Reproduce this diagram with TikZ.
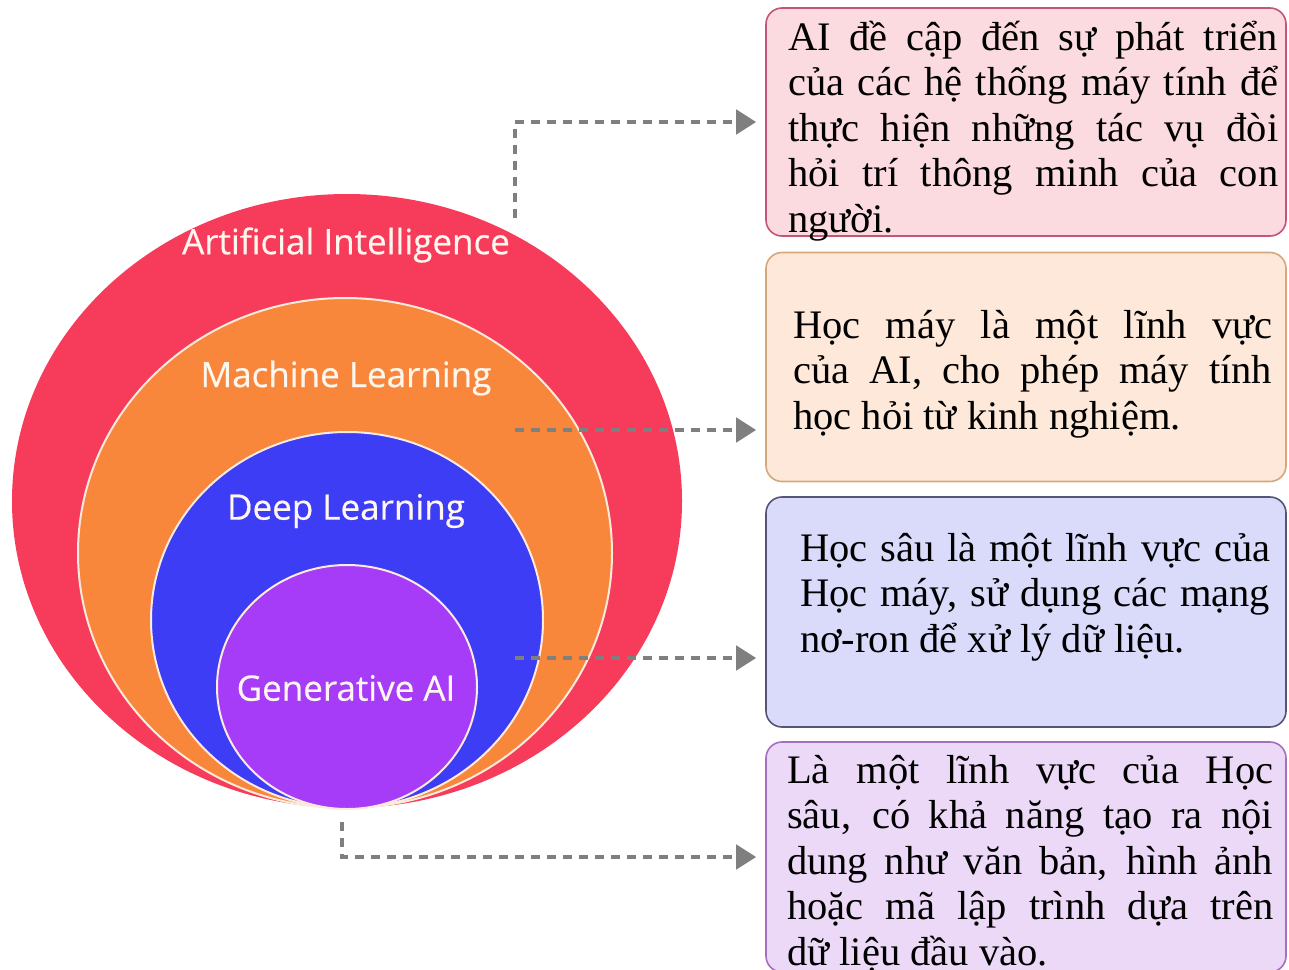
\documentclass[tikz,border=0pt]{standalone}
\usepackage{fontspec}
\setmainfont{Liberation Serif}
\newfontfamily\labelfont[FakeBold=0.5]{Open Sans}
\usetikzlibrary{arrows.meta}
\definecolor{aired}{HTML}{F73B5B}
\definecolor{mlorange}{HTML}{F8873B}
\definecolor{dlblue}{HTML}{3D3DF5}
\definecolor{genpurple}{HTML}{A63BF8}
\definecolor{ringline}{HTML}{FBEBDD}
\definecolor{labelwhite}{HTML}{FFF6EE}
\definecolor{linkgray}{HTML}{7F7F7F}
\tikzstyle{ring}=[draw=ringline,line width=2pt]
\tikzstyle{ringlabel}=[text=labelwhite,font=\labelfont\fontsize{35}{40}\selectfont]
\tikzstyle{infobox}=[rounded corners=16pt,line width=1.6pt,minimum width=520pt,inner sep=0pt]
\tikzstyle{infotext}=[anchor=base west,inner sep=0pt,text width=490pt,align=justify,
  font=\fontsize{40.5}{45.5}\selectfont,execute at begin node={\tolerance=10000\parindent=0pt}]
\tikzstyle{link}=[draw=linkgray,line width=4.5pt,dash pattern=on 9pt off 7pt,shorten >=9pt,-{Triangle[length=20pt,width=24pt]}]
\newcommand{\jline}[1]{{\parfillskip=0pt #1\par}}

\begin{document}
\begin{tikzpicture}[x=1pt,y=-1pt]
\useasboundingbox (0,0) rectangle (1289,969);
% nested circles
\fill[aired] (347,501) ellipse [x radius=335pt,y radius=307pt];
\filldraw[fill=mlorange,ring] (345,553) ellipse [x radius=267pt,y radius=255pt];
\filldraw[fill=dlblue,ring] (347,620) ellipse [x radius=196pt,y radius=188pt];
\filldraw[fill=genpurple,ring] (347,687) ellipse [x radius=130pt,y radius=122pt];
\node[ringlabel] (ai) at (346,245) {Artificial Intelligence};
\node[ringlabel] (ml) at (346,378) {Machine Learning};
\node[ringlabel] (dl) at (346,511) {Deep Learning};
\node[ringlabel] (gen) at (346,688) {Generative AI};

% boxes on the right
\node[infobox,fill={rgb,255:red,251;green,218;blue,224},draw={rgb,255:red,196;green,84;blue,120},minimum height=228pt] (box1) at (1026,122) {};
\node[infobox,fill={rgb,255:red,253;green,232;blue,217},draw={rgb,255:red,214;green,167;blue,122},minimum height=229pt] (box2) at (1026,367) {};
\node[infobox,fill={rgb,255:red,218;green,218;blue,250},draw={rgb,255:red,84;green,84;blue,120},minimum height=230pt] (box3) at (1026,612) {};
\node[infobox,fill={rgb,255:red,236;green,217;blue,247},draw={rgb,255:red,166;green,110;blue,190},minimum height=230pt] (box4) at (1026,857) {};

\node[infotext] (txt1) at (788,50) {\jline{AI đề cập đến sự phát triển}\jline{của các hệ thống máy tính để}\jline{thực hiện những tác vụ đòi}\jline{hỏi trí thông minh của con}người.};
\node[infotext,text width=479pt] (txt2) at (793,338) {\jline{Học máy là một lĩnh vực}\jline{của AI, cho phép máy tính}học hỏi từ kinh nghiệm.};
\node[infotext,text width=470pt] (txt3) at (800,561) {\jline{Học sâu là một lĩnh vực của}\jline{Học máy, sử dụng các mạng}nơ-ron để xử lý dữ liệu.};
\node[infotext,text width=486pt] (txt4) at (787,783) {\jline{Là một lĩnh vực của Học}\jline{sâu, có khả năng tạo ra nội}\jline{dung như văn bản, hình ảnh}\jline{hoặc mã lập trình dựa trên}dữ liệu đầu vào.};

% links
\coordinate (s1) at (515,218);
\coordinate (s2) at (515,430);
\coordinate (s3) at (515,658);
\coordinate (s4) at (342,822);
\draw[link] (s1) |- (box1.west);
\draw[link] (s2) -- (s2 -| box2.west);
\draw[link] (s3) -- (s3 -| box3.west);
\draw[link] (s4) |- (box4.west);
\end{tikzpicture}
\end{document}
